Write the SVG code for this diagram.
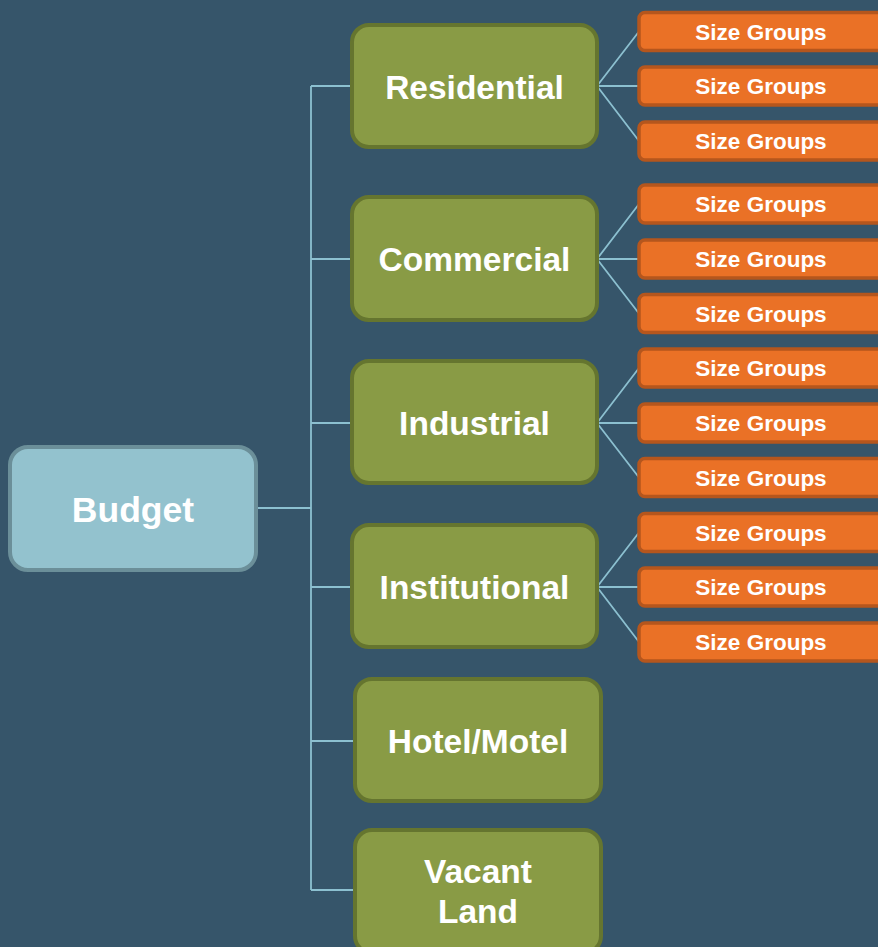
<svg xmlns="http://www.w3.org/2000/svg" width="878" height="947" viewBox="0 0 878 947">
  <style>
    .bg { fill: #36556a; }
    .link { stroke: #8cc0d0; stroke-width: 1.8; fill: none; }
    .root rect { fill: #93c2ce; stroke: #6b8f99; stroke-width: 4; }
    .cat rect { fill: #899b45; stroke: #65752f; stroke-width: 4; }
    .size rect { fill: #ea7126; stroke: #b5561d; stroke-width: 3.5; }
    text { font-family: "Liberation Sans", Arial, sans-serif; font-weight: bold; fill: #ffffff; text-anchor: middle; }
    .root text { font-size: 35.5px; }
    .cat text { font-size: 33.5px; }
    .size text { font-size: 22.5px; }
  </style>

  <rect class="bg" x="0" y="0" width="878" height="947"/>

  <!-- connectors -->
  <g id="connectors">
    <!-- trunk from Budget to categories -->
    <path class="link" d="M257 508 H311 M311 86 V890 M311 86 H352 M311 259 H352 M311 423 H352 M311 587 H352 M311 741 H355 M311 890 H355"/>
    <!-- fans from categories to size groups -->
    <path class="link" d="M597 86 L639 31.5 M597 86 H639 M597 86 L639 141"/>
    <path class="link" d="M597 259 L639 204 M597 259 H639 M597 259 L639 313.5"/>
    <path class="link" d="M597 423 L639 368 M597 423 H639 M597 423 L639 477.5"/>
    <path class="link" d="M597 587 L639 532.5 M597 587 H639 M597 587 L639 642"/>
  </g>

  <!-- root -->
  <g id="budget" class="root">
    <rect x="10" y="447" width="246" height="123" rx="18"/>
    <text x="133" y="521.5">Budget</text>
  </g>

  <!-- categories -->
  <g id="residential" class="cat">
    <rect x="352" y="25" width="245" height="122" rx="17"/>
    <text x="474.5" y="98.5">Residential</text>
  </g>
  <g id="commercial" class="cat">
    <rect x="352" y="197" width="245" height="123" rx="17"/>
    <text x="474.5" y="271">Commercial</text>
  </g>
  <g id="industrial" class="cat">
    <rect x="352" y="361" width="245" height="122" rx="17"/>
    <text x="474.5" y="435">Industrial</text>
  </g>
  <g id="institutional" class="cat">
    <rect x="352" y="525" width="245" height="122" rx="17"/>
    <text x="474.5" y="599">Institutional</text>
  </g>
  <g id="hotel-motel" class="cat">
    <rect x="355" y="679" width="246" height="122" rx="17"/>
    <text x="478" y="752.5">Hotel/Motel</text>
  </g>
  <g id="vacant-land" class="cat">
    <rect x="355" y="830" width="246" height="123" rx="17"/>
    <text x="478" y="882.5">Vacant</text>
    <text x="478" y="923">Land</text>
  </g>

  <!-- size groups: residential -->
  <g id="res-size-1" class="size"><rect x="639" y="12.5" width="246" height="38" rx="6"/><text x="761" y="39.5">Size Groups</text></g>
  <g id="res-size-2" class="size"><rect x="639" y="67" width="246" height="38" rx="6"/><text x="761" y="94">Size Groups</text></g>
  <g id="res-size-3" class="size"><rect x="639" y="122" width="246" height="38" rx="6"/><text x="761" y="149">Size Groups</text></g>

  <!-- size groups: commercial -->
  <g id="com-size-1" class="size"><rect x="639" y="185" width="246" height="38" rx="6"/><text x="761" y="212">Size Groups</text></g>
  <g id="com-size-2" class="size"><rect x="639" y="240" width="246" height="38" rx="6"/><text x="761" y="267">Size Groups</text></g>
  <g id="com-size-3" class="size"><rect x="639" y="294.5" width="246" height="38" rx="6"/><text x="761" y="321.5">Size Groups</text></g>

  <!-- size groups: industrial -->
  <g id="ind-size-1" class="size"><rect x="639" y="349" width="246" height="38" rx="6"/><text x="761" y="376">Size Groups</text></g>
  <g id="ind-size-2" class="size"><rect x="639" y="404" width="246" height="38" rx="6"/><text x="761" y="431">Size Groups</text></g>
  <g id="ind-size-3" class="size"><rect x="639" y="458.5" width="246" height="38" rx="6"/><text x="761" y="485.5">Size Groups</text></g>

  <!-- size groups: institutional -->
  <g id="ins-size-1" class="size"><rect x="639" y="513.5" width="246" height="38" rx="6"/><text x="761" y="540.5">Size Groups</text></g>
  <g id="ins-size-2" class="size"><rect x="639" y="568" width="246" height="38" rx="6"/><text x="761" y="595">Size Groups</text></g>
  <g id="ins-size-3" class="size"><rect x="639" y="623" width="246" height="38" rx="6"/><text x="761" y="650">Size Groups</text></g>
</svg>
